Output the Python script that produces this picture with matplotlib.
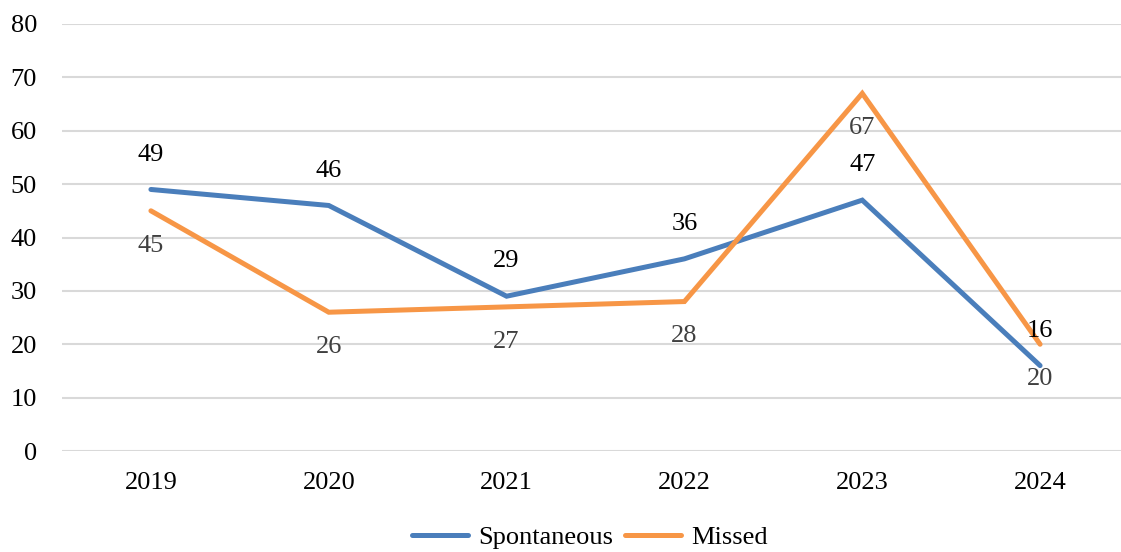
import numpy as np
import matplotlib
matplotlib.use("Agg")
import matplotlib.pyplot as plt

plt.rcParams['font.family'] = ['Liberation Serif', 'DejaVu Serif']

years = ['2019', '2020', '2021', '2022', '2023', '2024']
spontaneous = [49, 46, 29, 36, 47, 16]
missed = [45, 26, 27, 28, 67, 20]

blue = '#4A7EBB'
orange = '#F79646'
fs = 19

fig = plt.figure(figsize=(11.21, 5.52), dpi=100)
ax = fig.add_axes([62 / 1121, 1 - 451 / 552, (1129 - 62) / 1121, (451 - 24) / 552])

x = np.arange(len(years))
ax.plot(x, spontaneous, color=blue, lw=3.6, solid_capstyle='round',
        solid_joinstyle='miter', label='Spontaneous', zorder=3)
ax.plot(x, missed, color=orange, lw=3.6, solid_capstyle='round',
        solid_joinstyle='miter', label='Missed', zorder=3)

# data labels: blue above, orange below
for xi, v in zip(x, spontaneous):
    ax.annotate(str(v), (xi, v), xytext=(0, 25), textcoords='offset points',
                ha='center', va='center', fontsize=fs, color='black', zorder=4)
for xi, v in zip(x, missed):
    ax.annotate(str(v), (xi, v), xytext=(0, -25), textcoords='offset points',
                ha='center', va='center', fontsize=fs, color='#404040', zorder=4)

ax.set_xlim(-0.5, 5.5)
ax.set_ylim(0, 80)
ax.set_yticks(range(0, 81, 10))
ax.set_xticks(x)
ax.set_xticklabels(years)
ax.tick_params(axis='both', length=0, labelsize=fs, colors='black')
ax.tick_params(axis='y', pad=18)
ax.tick_params(axis='x', pad=15)
ax.grid(axis='y', color='#d9d9d9', lw=1.5)
ax.set_axisbelow(True)
for s in ax.spines.values():
    s.set_visible(False)

fig.legend(loc='center', bbox_to_anchor=(590 / 1121, 1 - 537 / 552), ncol=2,
           frameon=False, fontsize=fs, handlelength=2.1, handletextpad=0.4,
           columnspacing=0.45)

fig.savefig('out.png', dpi=100)
